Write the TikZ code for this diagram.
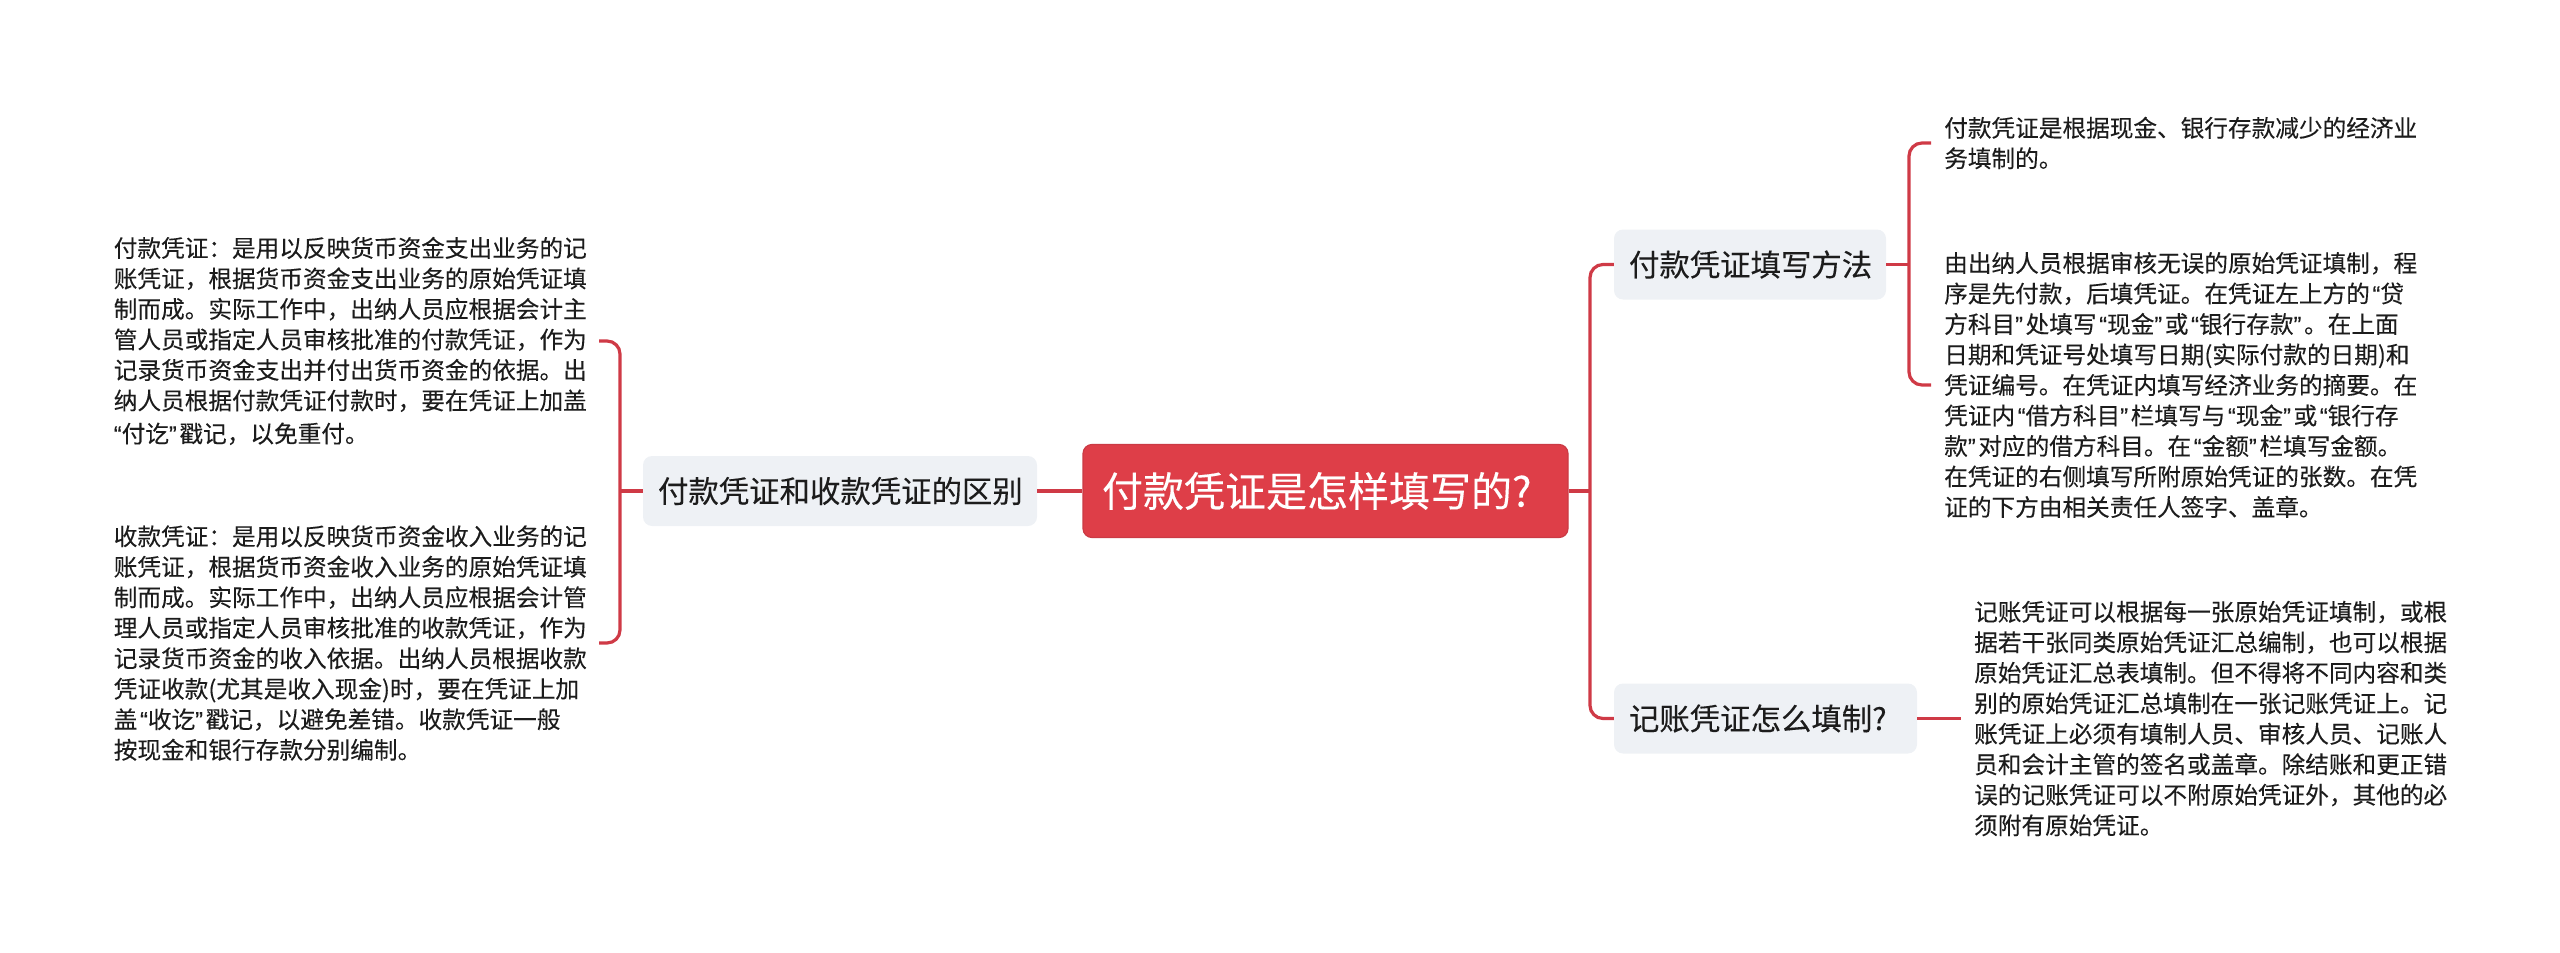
\documentclass[tikz,border=0pt]{standalone}
\usepackage{fontspec}
\setmainfont[FakeBold=0.15]{Noto Sans CJK SC}
\newfontfamily\latq[FakeBold=0.15]{Liberation Sans}
\newcommand{\qo}{\kern2.6pt{\latq “}}
\newcommand{\qc}{{\latq ”}\kern2.6pt}
\definecolor{rootred}{HTML}{DE3E48}
\definecolor{rootedge}{HTML}{CB3A44}
\definecolor{linkred}{HTML}{CF3A46}
\definecolor{branchbg}{HTML}{EEF1F5}
\definecolor{inktext}{HTML}{1C1C1C}
\tikzset{
  x=1pt,y=-1pt,
  rootnode/.style={draw=rootedge,line width=1.2pt,fill=rootred,rounded corners=9pt,text=white,anchor=center,
    minimum height=93pt,inner ysep=0pt,inner xsep=19pt,text width=447pt,align=left,font=\fontsize{41}{48}\selectfont},
  branchnode/.style={fill=branchbg,rounded corners=9pt,text=inktext,anchor=center,align=left,
    minimum height=70pt,inner ysep=0pt,inner xsep=15pt,font=\fontsize{30.4}{36}\selectfont},
  leafnode/.style={text=inktext,align=left,text width=472pt,inner xsep=13pt,inner ysep=0pt,
    font=\fontsize{23.65}{30.5}\selectfont},
  conn/.style={draw=linkred,line width=3.2pt},
  elbowlink/.style={conn,rounded corners=13pt}
}
\begin{document}
\begin{tikzpicture}
\useasboundingbox (0,0) rectangle (2560,953);
\node[rootnode] (root) at (1325.5,491) {付款凭证是怎样填写的?};
\node[branchnode,text width=364pt] (bl) at (840,491) {付款凭证和收款凭证的区别};
\node[branchnode,text width=242pt] (br1) at (1750,264.5) {付款凭证填写方法};
\node[branchnode,text width=273pt] (br2) at (1765.5,718.5) {记账凭证怎么填制?};

\node[leafnode,anchor=east] (ll1) at (599,341) {付款凭证：是用以反映货币资金支出业务的记\\账凭证，根据货币资金支出业务的原始凭证填\\制而成。实际工作中，出纳人员应根据会计主\\管人员或指定人员审核批准的付款凭证，作为\\记录货币资金支出并付出货币资金的依据。出\\纳人员根据付款凭证付款时，要在凭证上加盖\\\qo 付讫\qc 戳记，以免重付。};
\node[leafnode,anchor=east] (ll2) at (599,643) {收款凭证：是用以反映货币资金收入业务的记\\账凭证，根据货币资金收入业务的原始凭证填\\制而成。实际工作中，出纳人员应根据会计管\\理人员或指定人员审核批准的收款凭证，作为\\记录货币资金的收入依据。出纳人员根据收款\\凭证收款(尤其是收入现金)时，要在凭证上加\\盖\qo 收讫\qc 戳记，以避免差错。收款凭证一般\\按现金和银行存款分别编制。};
\node[leafnode,anchor=west] (lr1) at (1931,143) {付款凭证是根据现金、银行存款减少的经济业\\务填制的。};
\node[leafnode,anchor=west] (lr2) at (1931,385) {由出纳人员根据审核无误的原始凭证填制，程\\序是先付款，后填凭证。在凭证左上方的\qo 贷\\方科目\qc 处填写\qo 现金\qc 或\qo 银行存款\qc 。在上面\\日期和凭证号处填写日期(实际付款的日期)和\\凭证编号。在凭证内填写经济业务的摘要。在\\凭证内\qo 借方科目\qc 栏填写与\qo 现金\qc 或\qo 银行存\\款\qc 对应的借方科目。在\qo 金额\qc 栏填写金额。\\在凭证的右侧填写所附原始凭证的张数。在凭\\证的下方由相关责任人签字、盖章。};
\node[leafnode,anchor=west] (lr3) at (1961,718.5) {记账凭证可以根据每一张原始凭证填制，或根\\据若干张同类原始凭证汇总编制，也可以根据\\原始凭证汇总表填制。但不得将不同内容和类\\别的原始凭证汇总填制在一张记账凭证上。记\\账凭证上必须有填制人员、审核人员、记账人\\员和会计主管的签名或盖章。除结账和更正错\\误的记账凭证可以不附原始凭证外，其他的必\\须附有原始凭证。};

\coordinate (tl) at (620,0);
\coordinate (tr) at (1590,0);
\coordinate (tr1) at (1909,0);

\draw[conn] (bl.east) -- (root.west);
\draw[conn] (bl.west) -- (tl |- bl.west);
\draw[elbowlink] (ll1.east) -- (tl |- ll1.east) -- (tl |- ll2.east) -- (ll2.east);
\draw[conn] (root.east) -- (tr |- root.east);
\draw[elbowlink] (br1.west) -- (tr |- br1.west) -- (tr |- br2.west) -- (br2.west);
\draw[conn] (br1.east) -- (tr1 |- br1.east);
\draw[elbowlink] (lr1.west) -- (tr1 |- lr1.west) -- (tr1 |- lr2.west) -- (lr2.west);
\draw[conn] (br2.east) -- (lr3.west);
\end{tikzpicture}
\end{document}
